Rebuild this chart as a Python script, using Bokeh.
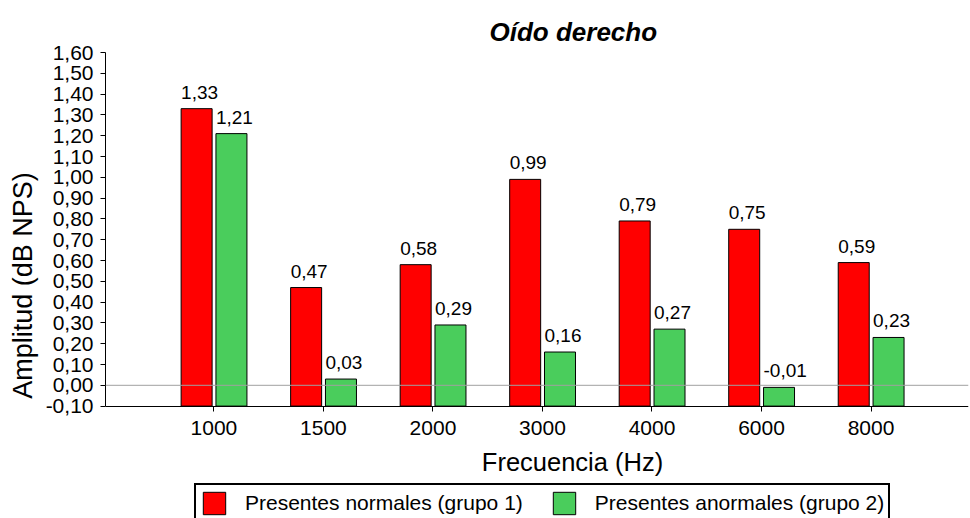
import numpy as np
from bokeh.plotting import figure
from bokeh.models import (ColumnDataSource, Range1d, FixedTicker, CustomJSTickFormatter,
                          Span, Legend, LegendItem, LabelSet, Label)
from bokeh.core.properties import value
from bokeh.embed import file_html
from bokeh.resources import INLINE

# ---- data ----
frequencies = ["1000", "1500", "2000", "3000", "4000", "6000", "8000"]
normales = [1.33, 0.47, 0.58, 0.99, 0.79, 0.75, 0.59]
anormales = [1.21, 0.03, 0.29, 0.16, 0.27, -0.01, 0.23]
y_ticks = [-0.10, 0.00, 0.10, 0.20, 0.30, 0.40, 0.50, 0.60, 0.70, 0.80,
           0.90, 1.00, 1.10, 1.20, 1.30, 1.40, 1.50, 1.60]
series_names = ["Presentes normales (grupo 1)", "Presentes anormales (grupo 2)"]
title_text = "Oído derecho"
x_title = "Frecuencia (Hz)"
y_title = "Amplitud (dB NPS)"

FONT = "Liberation Sans"
RED = "#ff0000"
GREEN = "#4acd5c"

xs = np.arange(len(frequencies))
off_r, off_g, bw = -0.158, 0.160, 0.283

def fmt(v):
    return f"{v:.2f}".replace(".", ",")

src_r = ColumnDataSource(dict(x=xs + off_r, lx=xs + off_r - bw / 2, top=normales,
                              lab=[fmt(v) for v in normales]))
src_g = ColumnDataSource(dict(x=xs + off_g, lx=xs + off_g - bw / 2, top=anormales,
                              lab=[fmt(v) for v in anormales]))

# frame spans from the top margin to the bottom of the canvas; the value axis
# is bounded to the data range and the category axis is pinned at its bottom
y_lo, y_hi = y_ticks[0], y_ticks[-1]
px_per_unit = 208.0
frame_h = 518 - 52
y_start = y_hi - frame_h / px_per_unit

p = figure(width=970, height=518, output_backend="svg", toolbar_location=None,
           title=title_text,
           x_range=Range1d(-0.99, 6.89), y_range=Range1d(y_start, y_hi),
           min_border_left=105, min_border_right=2, min_border_top=52, min_border_bottom=0)
p.outline_line_color = None
p.xgrid.visible = False
p.ygrid.visible = False
p.background_fill_color = "white"

p.title.align = "left"
p.title.offset = 384
p.title.text_font = FONT
p.title.text_font_size = "26px"
p.title.text_font_style = "bold italic"
p.title.text_color = "black"
p.title.standoff = 12

r1 = p.vbar(x="x", top="top", bottom=y_lo, width=bw, source=src_r,
            fill_color=RED, line_color="black", line_width=1)
r2 = p.vbar(x="x", top="top", bottom=y_lo, width=bw, source=src_g,
            fill_color=GREEN, line_color="black", line_width=1)

p.add_layout(Span(location=0, dimension="width", line_color="#a0a0a0", line_width=1))

for s in (src_r, src_g):
    p.add_layout(LabelSet(x="lx", y="top", text="lab", source=s, text_align="left",
                          text_baseline="alphabetic", y_offset=10, x_offset=0,
                          text_font=value(FONT), text_font_size=value("19px"),
                          text_color="black"))

# category axis
xa = p.xaxis[0]
xa.fixed_location = y_lo
xa.ticker = FixedTicker(ticks=list(xs))
xa.major_label_overrides = {int(i): f for i, f in zip(xs, frequencies)}
xa.major_tick_out = 5
xa.major_tick_in = 0
xa.minor_tick_line_color = None
xa.axis_line_color = "black"
xa.major_label_text_font = FONT
xa.major_label_text_font_size = "21px"
xa.major_label_text_color = "black"
xa.major_label_standoff = 10

# value axis
ya = p.yaxis[0]
ya.bounds = (y_lo, y_hi)
ya.ticker = FixedTicker(ticks=y_ticks)
ya.formatter = CustomJSTickFormatter(code="return tick.toFixed(2).replace('.', ',');")
ya.major_tick_out = 5
ya.major_tick_in = 0
ya.minor_tick_line_color = None
ya.axis_line_color = "black"
ya.major_label_text_font = FONT
ya.major_label_text_font_size = "21px"
ya.major_label_text_color = "black"
ya.major_label_standoff = 7
ya.axis_label = y_title
ya.axis_label_text_font = FONT
ya.axis_label_text_font_size = "27px"
ya.axis_label_text_font_style = "normal"
ya.axis_label_text_color = "black"
ya.axis_label_standoff = 5

# x-axis title (screen units from the frame's bottom-left corner)
p.add_layout(Label(x=467, y=57, x_units="screen", y_units="screen", text=x_title,
                   text_align="center", text_baseline="alphabetic",
                   text_font=FONT, text_font_size="25.5px", text_color="black"))

legend = Legend(items=[LegendItem(label=series_names[0], renderers=[r1]),
                       LegendItem(label=series_names[1], renderers=[r2])],
                orientation="horizontal", location=(89, -5),
                glyph_width=28, glyph_height=28, label_standoff=17, spacing=27,
                padding=4, margin=0,
                label_text_font=FONT, label_text_font_size="21px", label_text_color="black",
                border_line_color="black", border_line_width=2, border_line_alpha=1,
                background_fill_color="white", background_fill_alpha=1)
p.add_layout(legend, "center")

open("out.html", "w").write(file_html(p, INLINE))
